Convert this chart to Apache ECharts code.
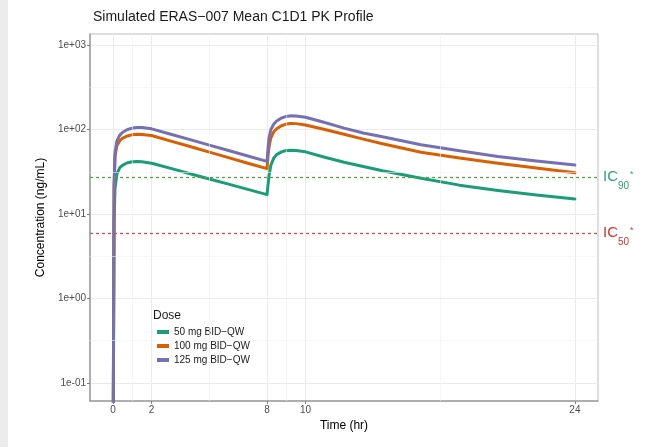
<!DOCTYPE html>
<html>
<head>
<meta charset="utf-8">
<script src="https://cdn.jsdelivr.net/npm/echarts@6/dist/echarts.min.js"></script>
<style>
html,body{margin:0;padding:0;background:#fff;}
#chart{width:663px;height:447px;}
</style>
</head>
<body>
<div id="chart"></div>
<script>
// ---- data ----
const times    = [0, 0.05, 0.1, 0.2, 0.35, 0.5, 0.75, 1, 1.25, 1.5, 2, 3, 4, 5, 6, 7, 8, 8.05, 8.1, 8.2, 8.35, 8.5, 8.75, 9, 9.25, 9.5, 10, 11, 12, 13, 14, 16, 18, 20, 22, 24];
const dose50   = [0.01, 8, 20, 30, 35.5, 38, 40.5, 41.5, 41.8, 41.5, 40, 34.7, 30, 26, 22.6, 19.6, 17, 22, 28, 38, 46, 50.5, 54.5, 56.5, 57, 56.5, 54.5, 47, 41, 36.5, 32.5, 26.5, 22, 19, 16.8, 15.1];
const dose100  = [0.01, 20, 48, 65, 74, 79, 84, 87, 88, 87.5, 85, 73, 63, 54, 46.6, 40, 34.5, 48, 62, 80, 94, 102, 111, 116, 118, 117.5, 113, 100, 88, 77, 68, 54, 46, 40, 35, 30.8];
const dose125  = [0.01, 22, 53, 74, 86, 93, 100, 104, 106, 106, 102, 88, 76, 65.5, 56.5, 48.7, 42, 60, 78, 100, 116, 126, 137, 143, 145.5, 145, 140, 121, 104, 91, 82, 66, 56, 48, 42.5, 38];
const seriesNames = ['50 mg BID\u2212QW', '100 mg BID\u2212QW', '125 mg BID\u2212QW'];
const seriesColors = ['#1B9E77', '#D95F02', '#7570B3'];
const ic90 = 27.2;
const ic50 = 5.96;
const xTicks = [0, 2, 8, 10, 24];
const xMinor = [1, 5, 9, 17];
const yTicks = [0.1, 1, 10, 100, 1000];
const yMinor = [0.316, 3.16, 31.6, 316];

const FONT = "'Liberation Sans', Arial, sans-serif";
function fmtExp(v) {
  const e = Math.round(Math.log10(v));
  const s = e < 0 ? '-' : '+';
  const a = Math.abs(e);
  return '1e' + s + (a < 10 ? '0' + a : a);
}
function pairs(ys) { return times.map((t, i) => [t, ys[i]]); }

const chart = echarts.init(document.getElementById('chart'), null, {renderer: 'canvas'});
const dataSets = [dose50, dose100, dose125];

const series = dataSets.map((d, i) => ({
  name: seriesNames[i],
  type: 'line',
  data: pairs(d),
  showSymbol: false,
  smooth: false,
  clip: true,
  z: 3,
  lineStyle: {width: 3, color: seriesColors[i], join: 'round', cap: 'round'},
  itemStyle: {color: seriesColors[i]}
}));

function icRich(col) {
  return {
    a: {fontSize: 15, color: col, fontFamily: FONT, lineHeight: 22, verticalAlign: 'middle'},
    b: {fontSize: 10, color: col, fontFamily: FONT, lineHeight: 22, verticalAlign: 'bottom', padding: [0,0,-3,0]},
    c: {fontSize: 9, color: col, fontFamily: FONT, lineHeight: 22, verticalAlign: 'middle', padding: [0,0,5,1]}
  };
}

// minor gridlines
series.push({
  type: 'line', data: [], z: 1, silent: true,
  markLine: {
    silent: true, symbol: 'none', animation: false,
    label: {show: false},
    lineStyle: {color: '#f0f0f0', width: 0.6, type: 'solid'},
    data: xMinor.map(v => ({xAxis: v})).concat(yMinor.map(v => ({yAxis: v})))
  }
});
// IC reference lines
series.push({
  type: 'line', data: [], z: 2, silent: true,
  markLine: {
    silent: true, symbol: 'none', animation: false,
    data: [
      {yAxis: ic90, lineStyle: {color: '#5a9e4e', width: 1.3, type: [3, 3]},
       label: {show: true, position: 'end', distance: 5, formatter: '{a|IC}{b|90}{c|*}', rich: icRich('#2ea56f')}},
      {yAxis: ic50, lineStyle: {color: '#e04848', width: 1.3, type: [3, 3]},
       label: {show: true, position: 'end', distance: 5, formatter: '{a|IC}{b|50}{c|*}', rich: icRich('#d0342f')}}
    ]
  }
});

chart.setOption({
  animation: false,
  backgroundColor: '#ffffff',
  textStyle: {fontFamily: FONT},
  title: {
    text: 'Simulated ERAS\u2212007 Mean C1D1 PK Profile',
    left: 88, top: 5,
    textStyle: {fontSize: 14, fontWeight: 'normal', color: '#1a1a1a', fontFamily: FONT}
  },
  grid: {left: 90, right: 65, top: 34, bottom: 46, show: true, borderColor: '#bdbdbd', borderWidth: 1, backgroundColor: '#fff'},
  legend: {
    orient: 'vertical', left: 152, top: 322,
    itemWidth: 12, itemHeight: 4, itemGap: 4,
    icon: 'rect',
    data: seriesNames,
    textStyle: {fontSize: 10, color: '#1a1a1a', fontFamily: FONT}
  },
  graphic: [
    {type: 'rect', left: 0, top: 0, shape: {width: 8, height: 447}, style: {fill: '#ececec'}, silent: true},
    {type: 'text', left: 153, top: 310, style: {text: 'Dose', fontSize: 12, fill: '#1a1a1a', fontFamily: FONT}}
  ],
  xAxis: {
    type: 'value', min: -1.2, max: 25.2,
    name: 'Time (hr)', nameLocation: 'middle', nameGap: 14,
    nameTextStyle: {fontSize: 12, color: '#000', fontFamily: FONT},
    axisLine: {show: true, onZero: false, lineStyle: {color: '#9e9e9e', width: 1.5}},
    axisTick: {show: true, length: 3, customValues: xTicks, lineStyle: {color: '#7f7f7f'}},
    axisLabel: {customValues: xTicks, fontSize: 10, color: '#4d4d4d', margin: 4, fontFamily: FONT},
    splitLine: {show: true, lineStyle: {color: '#ebebeb', width: 1}}
  },
  yAxis: {
    type: 'log', logBase: 10, min: 0.0616, max: 1349,
    name: 'Concentration (ng/mL)', nameLocation: 'middle', nameGap: 42,
    nameTextStyle: {fontSize: 12, color: '#000', fontFamily: FONT},
    axisLine: {show: true, onZero: false, lineStyle: {color: '#9e9e9e', width: 1.5}},
    axisTick: {show: true, length: 3, customValues: yTicks, lineStyle: {color: '#7f7f7f'}},
    axisLabel: {customValues: yTicks, fontSize: 10, color: '#4d4d4d', margin: 4, fontFamily: FONT,
      formatter: v => fmtExp(v)},
    splitLine: {show: true, lineStyle: {color: '#ebebeb', width: 1}}
  },
  series: series
});
</script>
</body>
</html>
